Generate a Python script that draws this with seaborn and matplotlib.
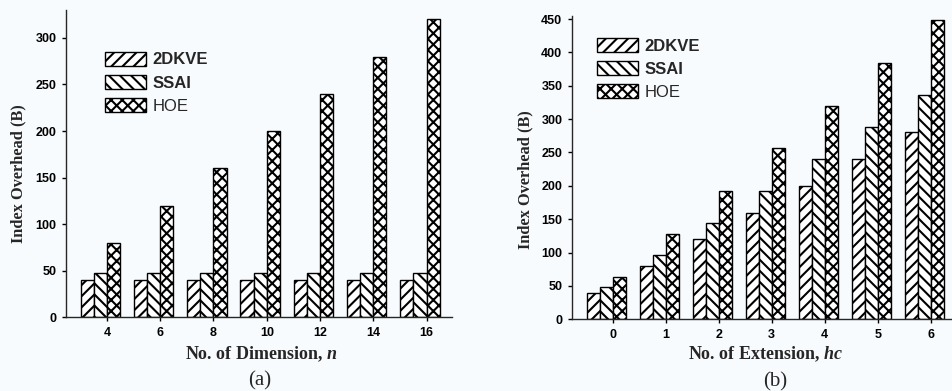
import numpy as np
import pandas as pd
import seaborn as sns
import matplotlib
matplotlib.use("Agg")
import matplotlib.pyplot as plt
import matplotlib.patches as mpatches

# ---- data -------------------------------------------------------------
schemes = ["2DKVE", "SSAI", "HOE"]

dims = [4, 6, 8, 10, 12, 14, 16]
dim_2dkve = [40, 40, 40, 40, 40, 40, 40]
dim_ssai = [48, 48, 48, 48, 48, 48, 48]
dim_hoe = [80, 120, 160, 200, 240, 280, 320]

exts = [0, 1, 2, 3, 4, 5, 6]
ext_2dkve = [40, 80, 120, 160, 200, 240, 280]
ext_ssai = [48, 96, 144, 192, 240, 288, 336]
ext_hoe = [64, 128, 192, 256, 320, 384, 448]

hatches = ["///", "\\\\\\", "xxx"]
legend_weights = ["bold", "bold", "normal"]

# ---- style ------------------------------------------------------------
sns.set_theme(style="ticks")
BG = "#f8fbfd"
plt.rcParams.update({
    "font.family": ["Liberation Sans", "DejaVu Sans"],
    "hatch.linewidth": 1.5,
    "hatch.color": "black",
    "axes.linewidth": 1.0,
    "mathtext.fontset": "custom",
    "mathtext.it": "Liberation Serif:italic:bold",
    "mathtext.rm": "Liberation Serif:bold",
    "mathtext.bf": "Liberation Serif:bold",
})


def long_frame(xs, a, b, c):
    rows = []
    for vals, name in zip((a, b, c), schemes):
        for x, v in zip(xs, vals):
            rows.append({"x": str(x), "value": v, "scheme": name})
    return pd.DataFrame(rows)


def draw_panel(ax, df, order, ylim, yticks, legend_anchor):
    sns.barplot(data=df, x="x", y="value", hue="scheme", order=order,
                hue_order=schemes, width=0.74, palette=["white"] * 3,
                saturation=1, ax=ax, legend=False, errorbar=None)
    for cont, h in zip(ax.containers, hatches):
        for p in cont.patches:
            p.set_facecolor("white")
            p.set_edgecolor("black")
            p.set_linewidth(1.0)
            p.set_hatch(h)
    # ticks sit where the SSAI and HOE bars meet
    tick_pos = [p.get_x() for p in ax.containers[2].patches]
    ax.set_xticks(tick_pos)
    ax.set_xticklabels(order)
    ax.set_ylim(*ylim)
    ax.set_yticks(yticks)
    ax.set_xlim(-0.645, 6.6)
    sns.despine(ax=ax)
    ax.set_facecolor(BG)
    ax.set_xlabel("")
    ax.set_ylabel("")
    ax.tick_params(axis="both", direction="out", length=3, width=1.0,
                   pad=4, labelsize=9, colors="black")
    for lab in ax.get_xticklabels() + ax.get_yticklabels():
        lab.set_fontweight("bold")
    handles = [mpatches.Patch(facecolor="white", edgecolor="black",
                              linewidth=1.0, hatch=h) for h in hatches]
    leg = ax.legend(handles, schemes, loc="upper left",
                    bbox_to_anchor=legend_anchor, frameon=False,
                    borderpad=0, borderaxespad=0, handlelength=2.45,
                    handleheight=0.9, labelspacing=0.45, handletextpad=0.42,
                    prop={"family": "Liberation Sans", "weight": "bold",
                          "size": 12})
    for txt, w in zip(leg.get_texts(), legend_weights):
        txt.set_fontweight(w)
    return leg


fig = plt.figure(figsize=(9.53, 3.91), dpi=100, facecolor=BG)

ax_a = fig.add_axes([66 / 953, 1 - 317.3 / 391, 386 / 953, 307.3 / 391])
draw_panel(ax_a, long_frame(dims, dim_2dkve, dim_ssai, dim_hoe),
           [str(d) for d in dims], (0, 330), np.arange(0, 301, 50),
           (0.101, 0.864))

ax_b = fig.add_axes([572 / 953, 1 - 319.3 / 391, 384 / 953, 303.6 / 391])
draw_panel(ax_b, long_frame(exts, ext_2dkve, ext_ssai, ext_hoe),
           [str(e) for e in exts], (0, 455), np.arange(0, 451, 50),
           (0.065, 0.927))

ylab_font = {"family": "Liberation Serif", "weight": "bold", "size": 11.8}
fig.text(18 / 953, 1 - 174 / 391, "Index Overhead (B)", rotation=90,
         ha="center", va="center", fontdict=ylab_font)
fig.text(525 / 953, 1 - 180 / 391, "Index Overhead (B)", rotation=90,
         ha="center", va="center", fontdict=ylab_font)

xlab_font = {"family": "Liberation Serif", "weight": "bold", "size": 13}
fig.text(261 / 953, 1 - 354 / 391, "No. of Dimension, $n$",
         ha="center", va="center", fontdict=xlab_font)
fig.text(766 / 953, 1 - 354 / 391, "No. of Extension, $hc$",
         ha="center", va="center", fontdict=xlab_font)

serif = {"family": "Liberation Serif", "size": 15}
fig.text(260 / 953, 1 - 381 / 391, "(a)", ha="center", va="center",
         fontdict=serif)
fig.text(775 / 953, 1 - 382 / 391, "(b)", ha="center", va="center",
         fontdict=serif)

fig.savefig("out.png", dpi=100, facecolor=BG)
